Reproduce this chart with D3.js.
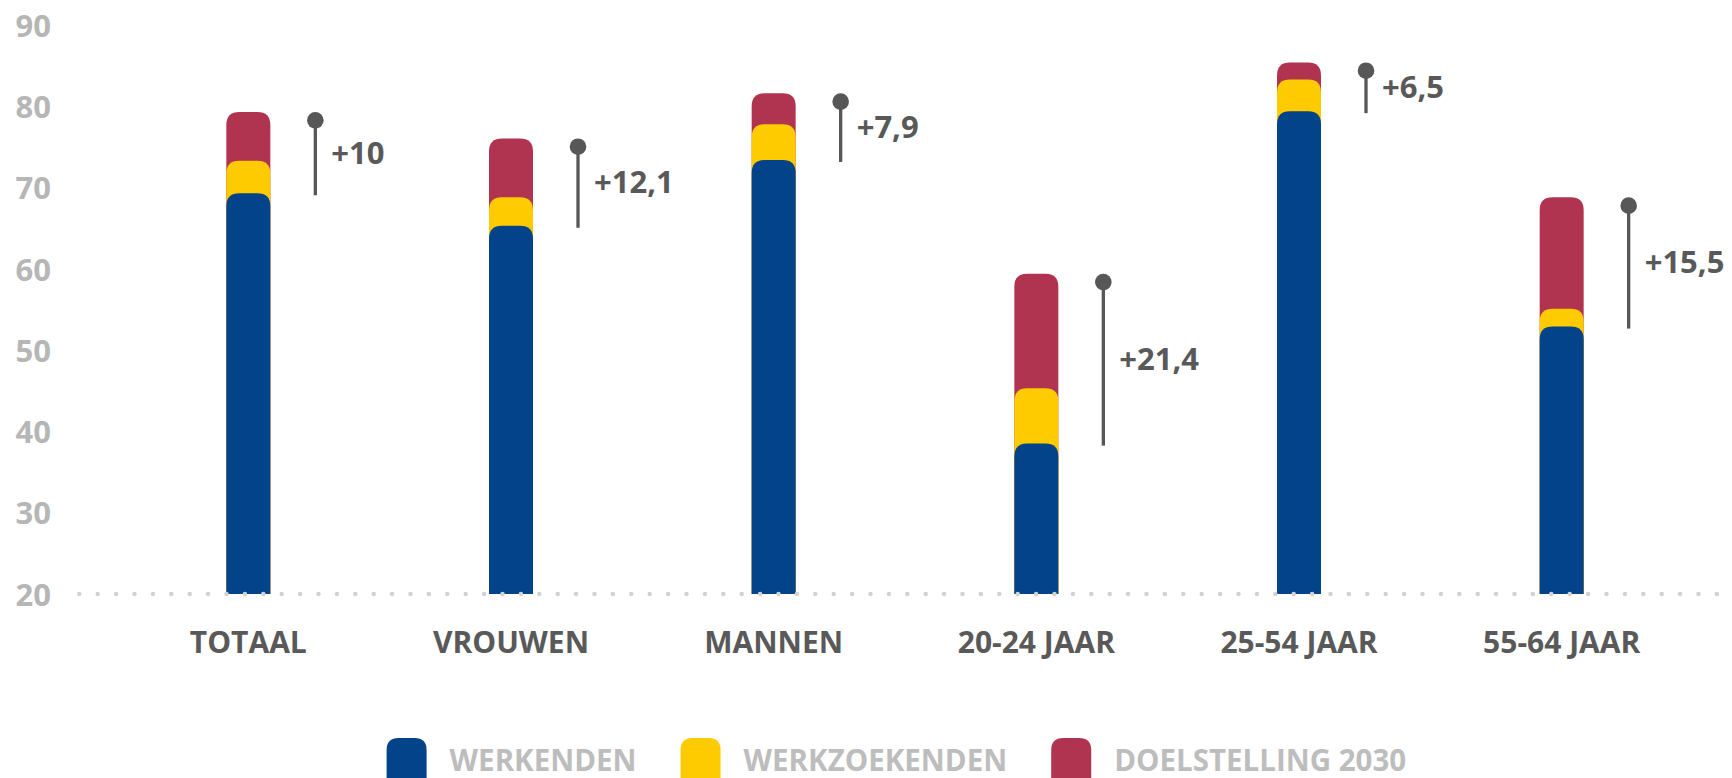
<!DOCTYPE html>
<html>
<head>
<meta charset="utf-8">
<script src="https://cdn.jsdelivr.net/npm/d3@7"></script>
<style>
  html, body { margin: 0; padding: 0; background: #ffffff; overflow: hidden; }
  svg { display: block; font-family: "Open Sans", "Noto Sans", sans-serif; font-weight: 700; }
</style>
</head>
<body>
<svg id="chart" width="1732" height="778"></svg>
<script>
// ---- data ----
const categories = ["TOTAAL", "VROUWEN", "MANNEN", "20-24 JAAR", "25-54 JAAR", "55-64 JAAR"];
const werkenden = [69.3, 65.3, 73.4, 38.5, 79.4, 52.9];
const werkzoekenden = [4.0, 3.5, 4.4, 6.8, 3.9, 2.2];
const doelstelling = [6.0, 7.25, 3.8, 14.1, 2.1, 13.7];
const diffLabels = ["+10", "+12,1", "+7,9", "+21,4", "+6,5", "+15,5"];
const seriesNames = ["WERKENDEN", "WERKZOEKENDEN", "DOELSTELLING 2030"];
const yTicks = [20, 30, 40, 50, 60, 70, 80, 90];

const colors = ["#02438a", "#fecb00", "#b0344f"];

const svg = d3.select("#chart");
const W = 1732, H = 778;

const x = d3.scaleBand().domain(categories).range([117, 1693]).paddingInner(0).paddingOuter(0);
const y = d3.scaleLinear().domain([20, 90]).range([594, 25]);
const barW = 44;
const radius = 13;

const rows = categories.map((c, i) => ({
  cat: c,
  w: werkenden[i], z: werkzoekenden[i], d: doelstelling[i]
}));
const stack = d3.stack().keys(["w", "z", "d"]);
const stacked = stack(rows);

function topRounded(x0, w, yTop, yBot, r) {
  r = Math.min(r, (yBot - yTop), w / 2);
  return `M${x0},${yBot} L${x0},${yTop + r} Q${x0},${yTop} ${x0 + r},${yTop} ` +
         `L${x0 + w - r},${yTop} Q${x0 + w},${yTop} ${x0 + w},${yTop + r} L${x0 + w},${yBot} Z`;
}

// y axis labels
const yAxis = d3.axisLeft(y).tickValues(yTicks).tickSize(0).tickPadding(0).tickFormat(d3.format("d"));
const gy = svg.append("g").attr("transform", "translate(51,0)").call(yAxis);
gy.select(".domain").remove();
gy.selectAll("text")
  .attr("fill", "#b6b6b6")
  .style("font-size", "31px")
  .style("font-family", "'Open Sans', sans-serif")
  .style("font-weight", "700")
  .attr("dy", "0.36em");

// bars: draw tallest (cumulative) first, then overlay lower segments
const layersDrawOrder = [2, 1, 0];
layersDrawOrder.forEach(li => {
  svg.append("g").selectAll("path")
    .data(stacked[li])
    .join("path")
    .attr("fill", colors[li])
    .attr("d", d => {
      const cx = x(d.data.cat) + x.bandwidth() / 2;
      return topRounded(cx - barW / 2, barW, y(d[1]), y(20), radius);
    });
});

// dotted baseline
svg.append("line")
  .attr("x1", 79.3).attr("x2", W)
  .attr("y1", y(20)).attr("y2", y(20))
  .attr("stroke", "#d2d2d2")
  .attr("stroke-width", 4.5)
  .attr("stroke-linecap", "round")
  .attr("stroke-dasharray", "0 18.4");

// pins and difference labels
const pinOffset = 67, pinR = 8.3;
const pins = svg.append("g");
rows.forEach((r, i) => {
  const cx = x(r.cat) + x.bandwidth() / 2 + pinOffset;
  const topV = r.w + r.z + r.d;
  const cy = y(topV) + pinR;
  const yb = y(r.w) + 2;
  pins.append("line")
    .attr("x1", cx).attr("x2", cx)
    .attr("y1", cy).attr("y2", yb)
    .attr("stroke", "#575757").attr("stroke-width", 3.3);
  pins.append("circle")
    .attr("cx", cx).attr("cy", cy).attr("r", pinR)
    .attr("fill", "#575757");
  const ly = (cy + yb) / 2 - 5;
  pins.append("text")
    .attr("x", cx + 16).attr("y", ly)
    .attr("dy", "0.36em")
    .attr("fill", "#595959")
    .style("font-size", "31px")
    .text(diffLabels[i]);
});

// x axis labels
const xAxis = d3.axisBottom(x).tickSize(0).tickPadding(0);
const gx = svg.append("g").attr("transform", "translate(0,653)").call(xAxis);
gx.select(".domain").remove();
gx.selectAll("text")
  .attr("dy", "0")
  .attr("y", 0)
  .attr("fill", "#595959")
  .style("font-size", "30px")
  .style("font-family", "'Open Sans', sans-serif")
  .style("font-weight", "700");

// legend
const legend = svg.append("g");
let lx = 0;
const gap = 44;
seriesNames.forEach((name, i) => {
  const g = legend.append("g");
  g.append("path")
    .attr("fill", colors[i])
    .attr("d", topRounded(0, 40, 738, 800, 12));
  const t = g.append("text")
    .attr("x", 63).attr("y", 770.5)
    .attr("fill", "#bdbdbd")
    .style("font-size", "29.5px")
    .text(name);
  const tw = t.node().getComputedTextLength();
  g.attr("transform", `translate(${lx},0)`);
  lx += 63 + tw + gap;
});
legend.attr("transform", "translate(386.6,0)");
</script>
</body>
</html>
